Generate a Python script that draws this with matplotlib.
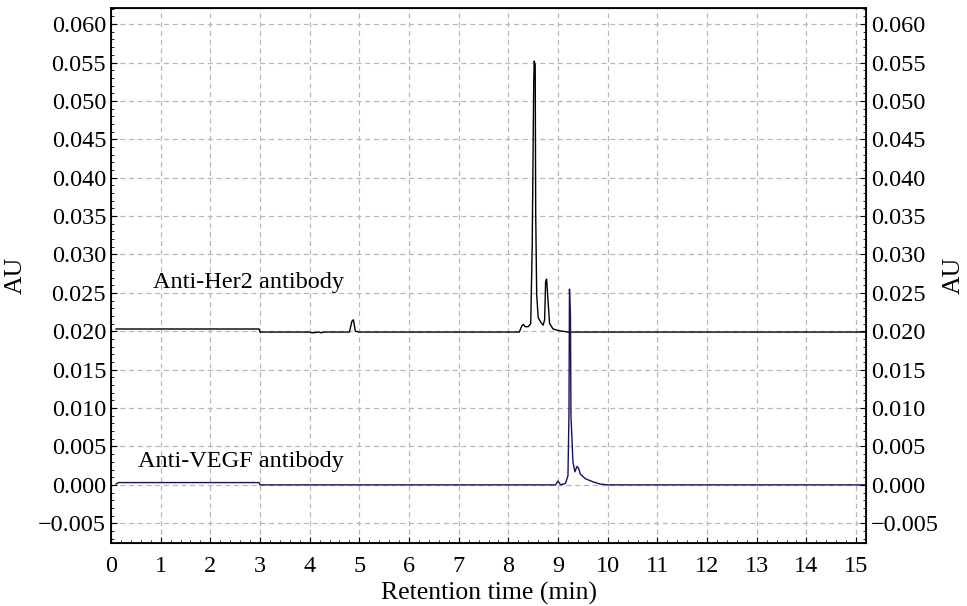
import numpy as np
import matplotlib
matplotlib.use('Agg')
import matplotlib.pyplot as plt
from matplotlib.ticker import MultipleLocator, FuncFormatter

plt.rcParams['font.family'] = ['Liberation Serif', 'DejaVu Serif']

# Anti-Her2 trace (retention time, AU)
her2_t = [0.1, 0.2, 2.98, 3.0, 4.0, 4.05, 4.2, 4.22, 4.3, 4.8, 4.85, 4.88, 4.92, 5.0, 8.22, 8.27,
          8.3, 8.34, 8.4, 8.45, 8.48, 8.51, 8.52, 8.54, 8.55, 8.57, 8.6, 8.65, 8.7, 8.73, 8.75, 8.77,
          8.8, 8.83, 8.9, 9.0, 9.1, 9.2, 15.2]
her2_y = [0.0203, 0.0203, 0.0203, 0.0199, 0.0199, 0.0198, 0.0199, 0.0198, 0.0199, 0.0199, 0.0213, 0.0215,
          0.0200, 0.0199, 0.0199, 0.0207, 0.0209, 0.0206, 0.0206, 0.0210, 0.0311, 0.0520, 0.0552, 0.0547,
          0.0355, 0.0248, 0.0218, 0.0212, 0.0208, 0.0215, 0.0265, 0.0268, 0.0238, 0.0210, 0.0203,
          0.0201, 0.0200, 0.0199, 0.0199]

# Anti-VEGF trace (retention time, AU)
vegf_t = [0.1, 0.15, 2.98, 3.0, 8.95, 9.0, 9.05, 9.15, 9.2, 9.22, 9.23, 9.25, 9.26, 9.3, 9.34,
          9.38, 9.41, 9.45, 9.55, 9.7, 9.85, 10.0, 15.2]
vegf_y = [0.0001, 0.0003, 0.0003, 0.0, 0.0, 0.0005, 0.0, 0.0002, 0.0012, 0.0092, 0.0255, 0.0220,
          0.0090, 0.0030, 0.0017, 0.0024, 0.0022, 0.0014, 0.0008, 0.0004, 0.0001, 0.0, 0.0]

fig = plt.figure(figsize=(9.67, 6.06), dpi=100)
ax = fig.add_axes([111 / 967, 1 - 543 / 606, 755 / 967, 535 / 606])

ax.plot(her2_t, her2_y, color='black', lw=1.0)
ax.plot(vegf_t, vegf_y, color='#14145a', lw=1.0)

fmt = FuncFormatter(lambda v, p: ('%.3f' % v).replace('-', '\u2212'))
ylim = (-0.00757, 0.0621)
ax.set_xlim(0, 15.2)
ax.set_ylim(*ylim)
ax.xaxis.set_major_locator(MultipleLocator(1))
ax.xaxis.set_minor_locator(MultipleLocator(0.2))
ax.yaxis.set_major_locator(MultipleLocator(0.005))
ax.yaxis.set_minor_locator(MultipleLocator(0.001))
ax.yaxis.set_major_formatter(fmt)
ax.grid(True, which='major', color='#b8b8b8', ls=(0, (4, 3)), lw=0.9)

ax.tick_params(which='both', direction='in', labelsize=17.5, top=False)
ax.tick_params(which='major', length=4)
ax.tick_params(which='minor', length=2)
ax.tick_params(axis='x', pad=9)
for s in ax.spines.values():
    s.set_linewidth(1.3)

ax.set_xlabel('Retention time (min)', fontsize=18.5, labelpad=4)
ax.set_ylabel('AU', fontsize=18.5, labelpad=8)

# right-hand axis repeats the AU scale
ax2 = ax.twinx()
ax2.set_ylim(*ylim)
ax2.yaxis.set_major_locator(MultipleLocator(0.005))
ax2.yaxis.set_minor_locator(MultipleLocator(0.001))
ax2.yaxis.set_major_formatter(fmt)
ax2.tick_params(which='both', direction='in', labelsize=17.5)
ax2.tick_params(which='major', length=4)
ax2.tick_params(which='minor', length=2)
ax2.set_ylabel('AU', fontsize=18.5, rotation=90, labelpad=3)

ax.text(0.85, 0.0263, 'Anti-Her2 antibody', fontsize=17.5, va='center')
ax.text(0.55, 0.0031, 'Anti-VEGF antibody', fontsize=17.5, va='center')

fig.savefig('out.png', dpi=100)
